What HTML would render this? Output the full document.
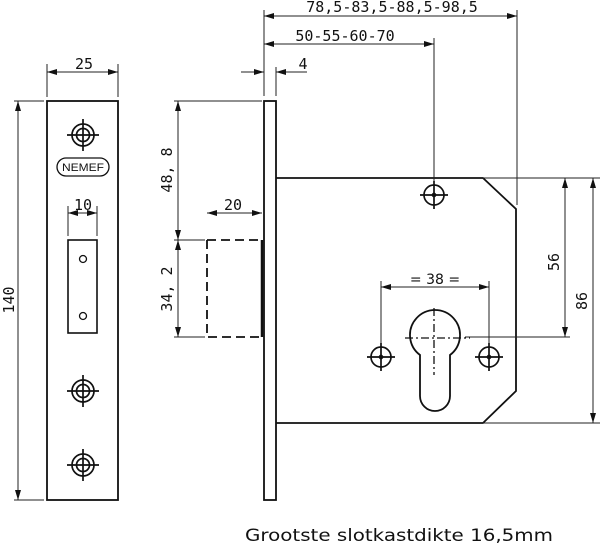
<!DOCTYPE html>
<html><head><meta charset="utf-8"><style>
html,body{margin:0;padding:0;background:#fff;}
svg{display:block;}
</style></head><body>
<svg width="600" height="548" viewBox="0 0 600 548" xmlns="http://www.w3.org/2000/svg">
<defs>
<marker id="a" viewBox="0 0 10 6" refX="10" refY="3" markerWidth="11" markerHeight="6" orient="auto-start-reverse" markerUnits="userSpaceOnUse">
<path d="M0,0 L10,3 L0,6 z" fill="#111"/></marker>
<g id="scr" fill="none" stroke="#111" stroke-width="1.7">
<circle r="11"/><circle r="6.5"/><path d="M-16,0H16M0,-16V16"/>
</g>
<g id="hole" fill="none" stroke="#111" stroke-width="1.7">
<circle r="10"/><path d="M-14,0H14M0,-14V14"/><circle r="1.5" fill="#111"/>
</g>
</defs>
<g fill="none" stroke="#111">
<rect x="47" y="101" width="71" height="399" stroke-width="1.8"/>
<rect x="68" y="240" width="29" height="93" stroke-width="1.6"/>
<circle cx="83" cy="259" r="3.5" stroke-width="1.3"/>
<circle cx="83" cy="316" r="3.5" stroke-width="1.3"/>
<rect x="57" y="158" width="52" height="18" rx="9" stroke-width="1.3"/>
<g stroke-width="1" stroke="#222">
<path d="M47,97V64M118,97V64M68,236V206M97,236V206M14,101H44M14,500H44"/>
<line x1="47" y1="72" x2="118" y2="72" marker-start="url(#a)" marker-end="url(#a)"/>
<line x1="68" y1="213" x2="97" y2="213" marker-start="url(#a)" marker-end="url(#a)"/>
<line x1="18" y1="101" x2="18" y2="500" marker-start="url(#a)" marker-end="url(#a)"/>
</g>
<rect x="264" y="101" width="12" height="399" stroke-width="1.8"/>
<path d="M276,178H483L516,209V391L483,423H276" stroke-width="1.8"/>
<path d="M207,240H262M207,240V337H262" stroke-width="1.8" stroke-dasharray="9,5"/>
<path d="M262,240V337" stroke-width="2.5"/>
<path d="M420,355A25,25 0 1 1 450,355V396A15,15 0 0 1 420,396Z" stroke-width="1.8"/>
<path d="M405,338H470M434,308V375" stroke-width="1.3" stroke-dasharray="8,3,2,3"/>
<g stroke-width="1" stroke="#222">
<path d="M264,96V10M517,205V10M434,192V38M276,96V67M174,101H262M174,240H205M174,337H205M465,337H570M483,178H600M483,423H600M381,345V281M489,345V281"/>
<line x1="264" y1="16" x2="517" y2="16" marker-start="url(#a)" marker-end="url(#a)"/>
<line x1="264" y1="44" x2="434" y2="44" marker-start="url(#a)" marker-end="url(#a)"/>
<line x1="241" y1="72" x2="264" y2="72" marker-end="url(#a)"/>
<line x1="307" y1="72" x2="276" y2="72" marker-end="url(#a)"/>
<line x1="178" y1="101" x2="178" y2="240" marker-start="url(#a)" marker-end="url(#a)"/>
<line x1="178" y1="240" x2="178" y2="337" marker-start="url(#a)" marker-end="url(#a)"/>
<line x1="207" y1="213" x2="262" y2="213" marker-start="url(#a)" marker-end="url(#a)"/>
<line x1="381" y1="287" x2="489" y2="287" marker-start="url(#a)" marker-end="url(#a)"/>
<line x1="565" y1="178" x2="565" y2="337" marker-start="url(#a)" marker-end="url(#a)"/>
<line x1="593" y1="178" x2="593" y2="423" marker-start="url(#a)" marker-end="url(#a)"/>
</g>
</g>
<use href="#scr" x="83" y="135"/>
<use href="#scr" x="83" y="391"/>
<use href="#scr" x="83" y="465"/>
<use href="#hole" x="434" y="195"/>
<use href="#hole" x="381" y="357"/>
<use href="#hole" x="489" y="357"/>
<g style="font-family:'DejaVu Sans Mono','Liberation Mono',monospace;font-size:15px" fill="#111" text-anchor="middle">
<text x="84" y="69">25</text>
<text x="83" y="210">10</text>
<text transform="translate(14,300) rotate(-90)">140</text>
<text x="392" y="12">78,5-83,5-88,5-98,5</text>
<text x="345" y="41">50-55-60-70</text>
<text x="303" y="69">4</text>
<text x="233" y="210">20</text>
<text transform="translate(172,170) rotate(-90)">48, 8</text>
<text transform="translate(172,289) rotate(-90)">34, 2</text>
<text transform="translate(559,262) rotate(-90)">56</text>
<text transform="translate(587,301) rotate(-90)">86</text>
</g>
<text x="435" y="284" text-anchor="middle" fill="#111" style="font-family:'DejaVu Sans',sans-serif;font-size:14px">= 38 =</text>
<text x="62" y="171" fill="#111" style="font-family:'Liberation Sans',sans-serif;font-size:11px" textLength="42" lengthAdjust="spacingAndGlyphs">NEMEF</text>
<text x="245" y="541" fill="#111" style="font-family:'DejaVu Sans',sans-serif;font-size:17px" textLength="308" lengthAdjust="spacingAndGlyphs">Grootste slotkastdikte 16,5mm</text>
</svg>
</body></html>
